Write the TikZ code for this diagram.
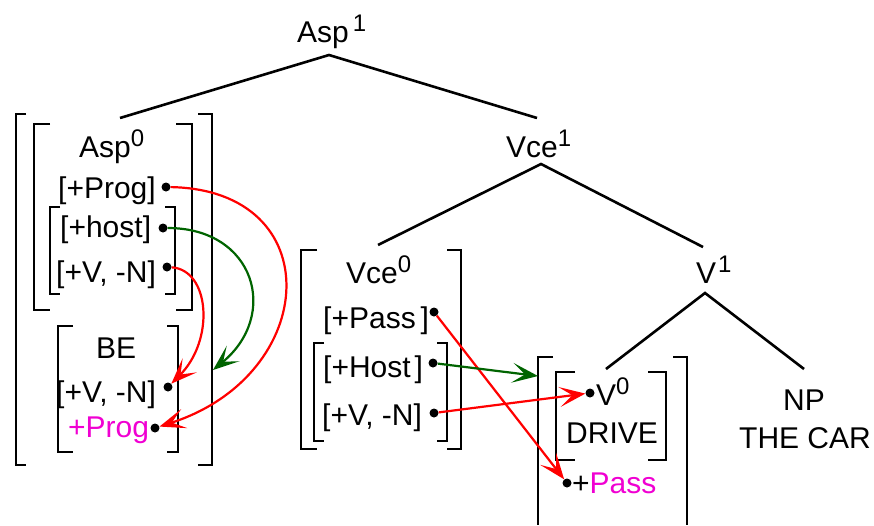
\documentclass[tikz,border=0pt]{standalone}
\usepackage{fontspec}
\setmainfont{Liberation Sans}
\usetikzlibrary{arrows.meta}
\definecolor{mag}{RGB}{240,0,210}
\definecolor{dgreen}{RGB}{0,100,0}
\newcommand\supx[1]{\raisebox{11pt}{\fontsize{24}{24}\selectfont #1}}
\begin{document}
\begin{tikzpicture}[x=1pt,y=-1pt,
  txt/.style={inner sep=0pt, anchor=base west, font=\fontsize{30}{32}\selectfont},
  ctxt/.style={inner sep=0pt, anchor=base, font=\fontsize{30}{32}\selectfont},
  tree/.style={line width=2.6pt},
  brk/.style={line width=2.4pt},
  dotn/.style={circle, fill=black, inner sep=0pt, minimum size=9pt},
  arr/.style={line width=2.2pt, -{Stealth[length=26pt,width=20pt,inset=13pt]}}]
\useasboundingbox (0,0) rectangle (874,525);

% tree labels
\node[txt] (asp1) at (297,42) {Asp\hspace{4pt}\supx{1}};
\node[txt] (vce1) at (506,157) {Vce\supx{1}};
\node[txt] (v1) at (696,283) {V\hspace{2pt}\supx{1}};
\node[ctxt] (np) at (804,410) {NP};
\node[ctxt] (thecar) at (805,448) {THE CAR};

% tree branches
\coordinate (a1) at (329,55); \coordinate (a1l) at (120,118); \coordinate (a1r) at (537,118);
\coordinate (a2) at (541,164); \coordinate (a2l) at (378,245); \coordinate (a2r) at (703,247);
\coordinate (a3) at (705,293); \coordinate (a3l) at (606,369); \coordinate (a3r) at (804,369);
\draw[tree] (a1l) -- (a1) -- (a1r);
\draw[tree] (a2l) -- (a2) -- (a2r);
\draw[tree] (a3l) -- (a3) -- (a3r);

% left block texts
\node[txt] (asp0) at (79,157) {Asp\supx{0}};
\node[txt] (prog) at (58,198) {[+Prog]};
\node[txt] (host) at (60,237) {[+host]};
\node[txt] (vn1) at (56,282) {[+V, -N]};
\node[txt] (be) at (96,358) {BE};
\node[txt] (vn2) at (56,402) {[+V, -N]};
\node[txt,text=mag] (progm) at (68,437) {+Prog};

% middle block texts
\node[txt] (vce0) at (346,283) {Vce\supx{0}};
\node[txt] (pass) at (323,328) {[+Pass\hspace{5pt}]};
\node[txt] (hostc) at (323,377) {[+Host\hspace{4pt}]};
\node[txt] (vn3) at (322,425) {[+V, -N]};

% right block texts
\node[txt] (v0) at (596,405) {V\supx{0}};
\node[txt] (drive) at (566,443) {DRIVE};
\node[txt] (passm) at (572,493) {+{\color{mag}Pass}};

% brackets
\draw[brk] (26,114) -- (16,114) -- (16,465) -- (26,465);
\draw[brk] (198,114) -- (212,114) -- (212,465) -- (198,465);
\draw[brk] (50,124) -- (34,124) -- (34,310) -- (50,310);
\draw[brk] (176,124) -- (192,124) -- (192,310) -- (176,310);
\draw[brk] (60,207) -- (50,207) -- (50,294) -- (60,294);
\draw[brk] (165,207) -- (175,207) -- (175,294) -- (165,294);
\draw[brk] (73,326) -- (58,326) -- (58,452) -- (73,452);
\draw[brk] (167,326) -- (178,326) -- (178,452) -- (167,452);
\draw[brk] (317,250) -- (301,250) -- (301,449) -- (317,449);
\draw[brk] (447,250) -- (461,250) -- (461,449) -- (447,449);
\draw[brk] (324,343) -- (314,343) -- (314,441) -- (324,441);
\draw[brk] (437,343) -- (447,343) -- (447,441) -- (437,441);
\draw[brk] (553,357) -- (538,357) -- (538,525);
\draw[brk] (673,357) -- (687,357) -- (687,525);
\draw[brk] (575,372) -- (556,372) -- (556,460) -- (575,460);
\draw[brk] (648,372) -- (666,372) -- (666,460) -- (648,460);

% dots
\node[dotn] (dprog) at (166,187) {};
\node[dotn] (dhost) at (163,228) {};
\node[dotn] (dvn1) at (167,267) {};
\node[dotn] (dvn2) at (168,387) {};
\node[dotn] (dprogm) at (155,428) {};
\node[dotn] (dpass) at (434,312) {};
\node[dotn] (dhostc) at (433,363) {};
\node[dotn] (dvn3) at (434,413) {};
\node[dotn] (dv0) at (590,393) {};
\node[dotn] (dpassm) at (567,483) {};
\coordinate (gt1) at (213,370);
\coordinate (gt2) at (538,376);

% arrows
\draw[arr,red] (dprog) .. controls (330,190) and (320,375) .. (dprogm);
\draw[arr,dgreen] (dhost) .. controls (255,228) and (280,315) .. (gt1);
\draw[arr,red] (dvn1) .. controls (210,270) and (215,340) .. (dvn2);
\draw[arr,red] (dpass) -- (dpassm);
\draw[arr,dgreen] (dhostc) -- (gt2);
\draw[arr,red] (dvn3) -- (dv0);
\end{tikzpicture}
\end{document}
